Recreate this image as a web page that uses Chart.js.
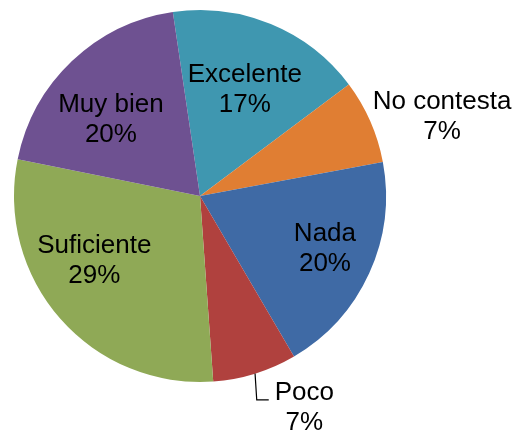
<!DOCTYPE html>
<html>
<head>
<meta charset="utf-8">
<script src="https://cdn.jsdelivr.net/npm/chart.js@4"></script>
<style>
html,body{margin:0;padding:0;background:#fff;}
#wrap{width:519px;height:436px;position:relative;}
</style>
</head>
<body>
<div id="wrap"><canvas id="c" width="519" height="436"></canvas></div>
<script>
const categories = ["Excelente", "No contesta", "Nada", "Poco", "Suficiente", "Muy bien"];
const values = [17.1, 7.3, 19.5, 7.3, 29.3, 19.5];
const colors = ["#3F97B0", "#E07E33", "#3F6AA5", "#B0413E", "#8FA956", "#6E5191"];

// label placement: radial fraction of radius, angular shift (deg), leader line flag
const labelPlacement = [
  {f: 0.62, da: 0.5},
  {f: 1.37, da: 5.5},
  {f: 0.73, da: -1.5},
  {f: 1.27, da: -9, leader: true},
  {f: 0.665, da: 10},
  {f: 0.63, da: -6}
];

const FONT = '26px "Liberation Sans", Arial, sans-serif';
const LINE_H = 30;

const labelPlugin = {
  id: 'pieLabels',
  afterDatasetsDraw(chart) {
    const ctx = chart.ctx;
    const meta = chart.getDatasetMeta(0);
    const data = chart.data.datasets[0].data;
    const total = data.reduce((a, b) => a + b, 0);
    ctx.save();
    ctx.font = FONT;
    ctx.fillStyle = '#000';
    ctx.textAlign = 'center';
    ctx.textBaseline = 'middle';
    meta.data.forEach((arc, i) => {
      const p = arc.getProps(['x', 'y', 'startAngle', 'endAngle', 'outerRadius'], true);
      const mid = (p.startAngle + p.endAngle) / 2;
      const pl = labelPlacement[i];
      const a = mid + pl.da * Math.PI / 180;
      const lx = p.x + Math.cos(a) * p.outerRadius * pl.f;
      const ly = p.y + Math.sin(a) * p.outerRadius * pl.f;
      const pct = Math.round(data[i] / total * 100) + '%';
      const l1y = ly - LINE_H / 2;
      const l2y = ly + LINE_H / 2;
      ctx.fillText(chart.data.labels[i], lx, l1y);
      ctx.fillText(pct, lx, l2y);
      if (pl.leader) {
        const ex = p.x + Math.cos(mid) * p.outerRadius;
        const ey = p.y + Math.sin(mid) * p.outerRadius;
        const w = ctx.measureText(chart.data.labels[i]).width;
        const endX = lx - w / 2 - 6;
        const elbowY = l1y + 7;
        ctx.beginPath();
        ctx.strokeStyle = '#000';
        ctx.lineWidth = 1.2;
        ctx.moveTo(ex, ey);
        ctx.lineTo(endX - 12, elbowY);
        ctx.lineTo(endX, elbowY);
        ctx.stroke();
      }
    });
    ctx.restore();
  }
};

new Chart(document.getElementById('c'), {
  type: 'pie',
  data: {
    labels: categories,
    datasets: [{
      data: values,
      backgroundColor: colors,
      borderWidth: 0
    }]
  },
  options: {
    responsive: false,
    animation: false,
    rotation: -8.4,
    layout: {padding: {left: 14, right: 133, top: 10, bottom: 54}},
    plugins: {
      legend: {display: false},
      tooltip: {enabled: false}
    }
  },
  plugins: [labelPlugin]
});
</script>
</body>
</html>
